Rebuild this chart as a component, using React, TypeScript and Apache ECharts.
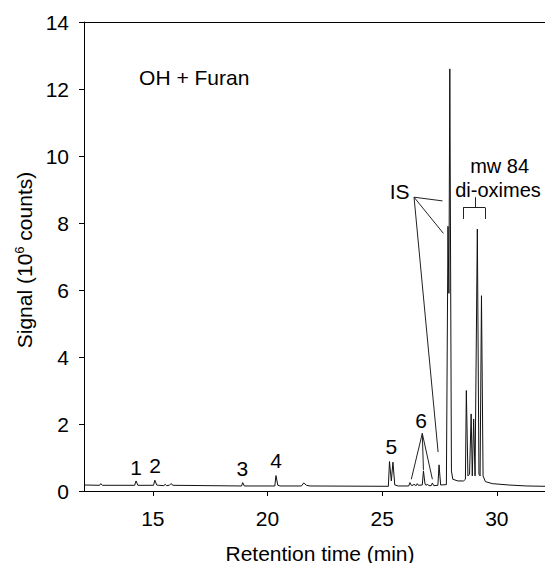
import React, { useEffect, useRef } from "react";
import * as echarts from "echarts";

// Chromatogram trace (retention time in min, signal in 10^6 counts)
const retentionTime = [
  12.0, 12.68, 12.73, 12.8, 14.21, 14.27, 14.35, 15.03, 15.09, 15.17, 15.25, 15.48, 15.54, 15.6,
  15.72, 15.79, 15.88, 18.87, 18.92, 18.99, 20.32, 20.37, 20.45, 20.55, 21.48, 21.58, 21.7, 21.85,
  25.27, 25.32, 25.4, 25.47, 25.55, 25.7, 26.16, 26.21, 26.27, 26.35, 26.4, 26.45, 26.5, 26.53,
  26.58, 26.75, 26.8, 26.87, 26.93, 26.97, 27.03, 27.14, 27.19, 27.25, 27.43, 27.48, 27.55, 27.8,
  27.87, 27.91, 27.95, 28.02, 28.08, 28.3, 28.55, 28.63, 28.67, 28.74, 28.81, 28.88, 28.93, 28.99,
  29.05, 29.15, 29.22, 29.27, 29.33, 29.4, 29.5, 29.8, 30.5, 31.3, 32.1,
];
const signal = [
  0.18, 0.17, 0.22, 0.17, 0.17, 0.3, 0.17, 0.17, 0.32, 0.18, 0.17, 0.16, 0.2, 0.16,
  0.17, 0.22, 0.17, 0.15, 0.25, 0.15, 0.15, 0.46, 0.17, 0.15, 0.15, 0.24, 0.17, 0.15,
  0.14, 0.88, 0.3, 0.86, 0.18, 0.15, 0.15, 0.25, 0.17, 0.17, 0.21, 0.16, 0.17, 0.22,
  0.17, 0.18, 0.6, 0.2, 0.17, 0.21, 0.16, 0.16, 0.24, 0.16, 0.17, 0.78, 0.18, 0.19,
  7.9, 5.9, 12.6, 0.6, 0.35, 0.3, 0.3, 0.35, 3.0, 0.45, 0.5, 2.3, 0.45, 2.15,
  0.45, 7.82, 0.5, 0.45, 5.83, 0.45, 0.28, 0.22, 0.18, 0.15, 0.14,
];

const xTickValues = [15, 20, 25, 30];

// Peak number labels (text, time, signal position)
const peakLabels = ["1", "2", "3", "4", "5", "6"];
const peakLabelTime = [14.27, 15.1, 18.9, 20.38, 25.4, 26.7];
const peakLabelSignal = [0.69, 0.75, 0.66, 0.9, 1.32, 2.09];

// Leader lines (data coordinates)
const isLeaderFrom = [26.39, 8.77];
const isLeaderTo = [
  [27.63, 8.66],
  [27.67, 7.69],
  [27.44, 1.16],
];
const sixLeaderFrom = [26.75, 1.72];
const sixLeaderTo = [
  [26.27, 0.35],
  [26.8, 0.63],
  [27.19, 0.35],
];
const bracketPoints = [
  [28.53, 8.12],
  [28.53, 8.46],
  [29.49, 8.46],
  [29.49, 8.12],
];
const bracketStem = [
  [29.05, 8.46],
  [29.05, 8.77],
];

const FONT = "'Liberation Sans', Arial, Helvetica, sans-serif";
const FS = 21;

export default function App() {
  const ref = useRef<HTMLDivElement>(null);

  useEffect(() => {
    if (!ref.current) return;
    const chart = echarts.init(ref.current, null, { renderer: "svg" });
    const trace = retentionTime.map((t, i) => [t, signal[i]]);

    const segs: any[] = [];
    isLeaderTo.forEach((p) => segs.push([{ coord: isLeaderFrom }, { coord: p }]));
    sixLeaderTo.forEach((p) => segs.push([{ coord: sixLeaderFrom }, { coord: p }]));
    for (let i = 0; i < bracketPoints.length - 1; i++) {
      segs.push([{ coord: bracketPoints[i] }, { coord: bracketPoints[i + 1] }]);
    }
    segs.push([{ coord: bracketStem[0] }, { coord: bracketStem[1] }]);

    const axisLineStyle = { color: "#000", width: 1 };

    chart.setOption({
      animation: false,
      grid: { left: 84, right: -1, top: 22, bottom: 72, containLabel: false },
      xAxis: [
        {
          type: "value",
          min: 12,
          max: 32.1,
          axisLine: { show: true, onZero: false, lineStyle: axisLineStyle },
          axisTick: { show: true, length: 5, customValues: xTickValues, lineStyle: axisLineStyle },
          axisLabel: {
            customValues: xTickValues,
            fontSize: FS,
            color: "#000",
            fontFamily: FONT,
            margin: 17,
          },
          splitLine: { show: false },
        },
        {
          type: "value",
          position: "top",
          min: 12,
          max: 32.1,
          axisLine: { show: true, onZero: false, lineStyle: axisLineStyle },
          axisTick: { show: false },
          axisLabel: { show: false },
          splitLine: { show: false },
        },
      ],
      yAxis: {
        type: "value",
        min: 0,
        max: 14,
        interval: 2,
        axisLine: { show: true, onZero: false, lineStyle: axisLineStyle },
        axisTick: { show: true, length: 5, lineStyle: axisLineStyle },
        axisLabel: { fontSize: FS, color: "#000", fontFamily: FONT, margin: 15 },
        splitLine: { show: false },
      },
      series: [
        {
          type: "line",
          data: trace,
          xAxisIndex: 0,
          showSymbol: false,
          symbol: "none",
          lineStyle: { color: "#111", width: 1 },
          markLine: {
            silent: true,
            symbol: ["none", "none"],
            label: { show: false },
            lineStyle: { color: "#222", width: 1, type: "solid" },
            emphasis: { disabled: true },
            data: segs,
          },
        },
      ],
    });

    const px = (t: number, v: number) => chart.convertToPixel({ seriesIndex: 0 }, [t, v]) as number[];
    const txt = (t: number, v: number, text: string, align = "center", size = FS) => {
      const p = px(t, v);
      return {
        type: "text",
        x: p[0],
        y: p[1],
        style: {
          text,
          fontSize: size,
          fontFamily: FONT,
          fill: "#000",
          align,
          verticalAlign: "middle",
        },
      };
    };

    const graphics: any[] = [];
    peakLabels.forEach((l, i) => graphics.push(txt(peakLabelTime[i], peakLabelSignal[i], l)));
    graphics.push(txt(25.76, 8.95, "IS"));
    graphics.push(txt(30.12, 9.69, "mw 84", "center", 20));
    graphics.push(txt(30.05, 9.0, "di-oximes", "center", 20));
    graphics.push(txt(14.4, 12.35, "OH + Furan", "left"));

    graphics.push({
      type: "text",
      x: 24,
      y: 260,
      rotation: Math.PI / 2,
      style: {
        text: "{a|Signal (10}{s|6}{a| counts)}",
        align: "center",
        verticalAlign: "middle",
        rich: {
          a: { fontSize: FS, fontFamily: FONT, fill: "#000" },
          s: { fontSize: 13, fontFamily: FONT, fill: "#000", verticalAlign: "top", padding: [0, 0, 9, 0] },
        },
      },
    });
    graphics.push({
      type: "text",
      x: 320,
      y: 553,
      style: {
        text: "Retention time (min)",
        fontSize: FS,
        fontFamily: FONT,
        fill: "#000",
        align: "center",
        verticalAlign: "middle",
      },
    });

    chart.setOption({ graphic: graphics });

    return () => chart.dispose();
  }, []);

  return (
    <div
      ref={ref}
      style={{ position: "fixed", left: 0, top: 0, width: 545, height: 563, background: "#fff" }}
    />
  );
}
